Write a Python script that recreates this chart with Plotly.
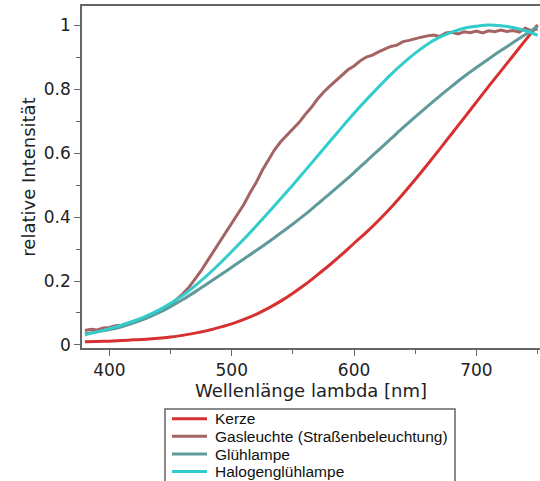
import plotly.graph_objects as go

# Wavelength grids (nm)
wl_smooth = list(range(380, 751, 10))
wl_gas = list(range(380, 751, 5))

# Relative spectral intensity of each light source
kerze = [0.010, 0.011, 0.012, 0.014, 0.016, 0.018, 0.021, 0.025, 0.030, 0.037,
         0.045, 0.055, 0.066, 0.080, 0.096, 0.115, 0.137, 0.162, 0.189, 0.219,
         0.250, 0.283, 0.318, 0.352, 0.389, 0.429, 0.472, 0.517, 0.564, 0.612,
         0.661, 0.710, 0.759, 0.808, 0.856, 0.904, 0.952, 1.000]

gluehlampe = [0.035, 0.041, 0.048, 0.057, 0.069, 0.083, 0.100, 0.120, 0.142, 0.166,
              0.191, 0.217, 0.243, 0.269, 0.295, 0.322, 0.350, 0.378, 0.408, 0.440,
              0.472, 0.505, 0.539, 0.574, 0.609, 0.644, 0.679, 0.713, 0.746, 0.778,
              0.809, 0.839, 0.867, 0.894, 0.920, 0.945, 0.970, 0.995]

halogen = [0.032, 0.041, 0.051, 0.062, 0.075, 0.090, 0.108, 0.130, 0.155, 0.185,
           0.218, 0.254, 0.292, 0.331, 0.372, 0.414, 0.457, 0.500, 0.545, 0.590,
           0.635, 0.680, 0.724, 0.766, 0.806, 0.845, 0.880, 0.912, 0.940, 0.962,
           0.978, 0.990, 0.996, 1.000, 0.998, 0.992, 0.982, 0.968]

gasleuchte = [0.045, 0.049, 0.047, 0.053, 0.055, 0.060, 0.062, 0.068, 0.072, 0.079,
              0.085, 0.094, 0.103, 0.114, 0.126, 0.142, 0.160, 0.180, 0.205, 0.232,
              0.262, 0.292, 0.320, 0.350, 0.378, 0.410, 0.440, 0.476, 0.508, 0.546,
              0.580, 0.610, 0.635, 0.655, 0.672, 0.695, 0.720, 0.742, 0.768, 0.790,
              0.808, 0.825, 0.845, 0.860, 0.872, 0.888, 0.900, 0.906, 0.916, 0.924,
              0.933, 0.937, 0.948, 0.952, 0.958, 0.962, 0.966, 0.969, 0.964, 0.975,
              0.977, 0.972, 0.979, 0.976, 0.981, 0.975, 0.982, 0.979, 0.984, 0.980,
              0.983, 0.978, 0.990, 0.982, 0.988]

names = ["Kerze", "Gasleuchte (Straßenbeleuchtung)", "Glühlampe", "Halogenglühlampe"]
colors = ["#D63030", "#A46464", "#609A9A", "#33CCCC"]
xs = [wl_smooth, wl_gas, wl_smooth, wl_smooth]
ys = [kerze, gasleuchte, gluehlampe, halogen]
shapes_mode = ["spline", "linear", "spline", "spline"]

W, H = 540, 481
ML, MR, MT, MB = 82, 0, 6, 133
PW, PH = W - ML - MR, H - MT - MB

fig = go.Figure()
for x, y, n, c, s in zip(xs, ys, names, colors, shapes_mode):
    fig.add_trace(go.Scatter(x=x, y=y, name=n, mode="lines",
                             line=dict(color=c, width=3, shape=s),
                             showlegend=False))

axis_col = "#666666"
tick_font = dict(family="DejaVu Sans", size=17, color="#222222")

fig.update_layout(
    width=W, height=H,
    margin=dict(l=ML, r=MR, t=MT, b=MB, autoexpand=False),
    paper_bgcolor="white", plot_bgcolor="white",
    xaxis=dict(range=[377.6, 752], showgrid=False, zeroline=False,
               showline=True, linecolor=axis_col, linewidth=1.5, mirror=True,
               ticks="outside", ticklen=6, tickcolor=axis_col, tickwidth=1,
               tick0=400, dtick=100, tickfont=tick_font,
               minor=dict(ticks="outside", ticklen=4, dtick=50, tick0=400,
                          tickcolor=axis_col),
               title=dict(text="Wellenlänge lambda [nm]", standoff=3,
                          font=dict(family="DejaVu Sans", size=18, color="#222222"))),
    yaxis=dict(range=[-0.0094, 1.0594], showgrid=False, zeroline=False,
               showline=True, linecolor=axis_col, linewidth=1.5,
               ticks="outside", ticklen=6, tickcolor=axis_col, tickwidth=1,
               tickfont=tick_font,
               tickvals=[0, 0.2, 0.4, 0.6, 0.8, 1.0],
               ticktext=["0", "0.2", "0.4", "0.6", "0.8", "1"],
               minor=dict(ticks="outside", ticklen=4, tickvals=[0.1, 0.3, 0.5, 0.7, 0.9],
                          tickcolor=axis_col),
               title=dict(text="relative Intensität", standoff=4,
                          font=dict(family="DejaVu Sans", size=18, color="#222222"))),
)


def px_to_paper(px, py):
    return (px - ML) / PW, (H - MB - py) / PH


# Legend box below the plot
bx0, by0 = px_to_paper(165, 409)
bx1, by1 = px_to_paper(455, 495)
fig.add_shape(type="rect", xref="paper", yref="paper", x0=bx0, x1=bx1, y0=by1, y1=by0,
              line=dict(color=axis_col, width=1.5), fillcolor="white", layer="above")

row_y = [418.7, 436.3, 454, 471.5]
for n, c, ry in zip(names, colors, row_y):
    lx0, ly = px_to_paper(172, ry)
    lx1, _ = px_to_paper(207, ry)
    fig.add_shape(type="line", xref="paper", yref="paper", x0=lx0, x1=lx1, y0=ly, y1=ly,
                  line=dict(color=c, width=3), layer="above")
    tx, _ = px_to_paper(213, ry)
    fig.add_annotation(xref="paper", yref="paper", x=tx, y=ly, text=n, showarrow=False,
                       xanchor="left", yanchor="middle",
                       font=dict(family="Liberation Sans", size=15.5, color="#111111"))

fig.write_html("out.html")
